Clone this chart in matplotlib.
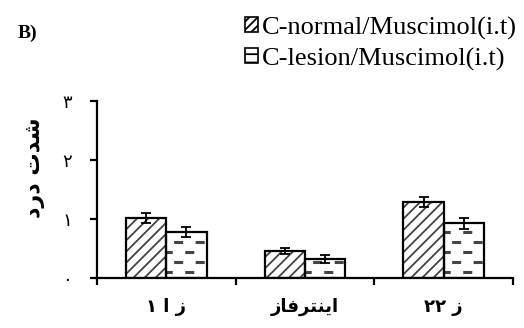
import numpy as np
import matplotlib
matplotlib.use("Agg")
import matplotlib.pyplot as plt
from matplotlib.patches import Patch

# ================================
# DATA
# ================================
# Persian labels are written in visual (left-to-right) order with
# presentation forms, since matplotlib does no Arabic shaping.
categories = ["۱ ﺍ ﺯ", "ﺯﺎﻓﺮﺘﻨﻳﺍ", "۲۲ ﺯ"]
series_names = ["C-normal/Muscimol(i.t)", "C-lesion/Muscimol(i.t)"]
normal_vals = [1.02, 0.46, 1.29]
normal_err = [0.08, 0.05, 0.08]
lesion_vals = [0.78, 0.32, 0.93]
lesion_err = [0.09, 0.07, 0.09]
y_ticks = [0, 1, 2, 3]
y_tick_labels = ["۰", "۱", "۲", "۳"]
y_label = "ﺩﺭﺩ ﺕﺪﺷ"
panel = "B)"

# ================================
# FIGURE
# ================================
plt.rcParams["hatch.linewidth"] = 1.3
plt.rcParams["lines.scale_dashes"] = False
fig = plt.figure(figsize=(5.24, 3.28), dpi=100)
ax = fig.add_axes([0.185, 0.152, 0.794, 0.54])

centers = np.arange(len(categories)) + 0.5
w = 0.29
x1 = centers - w / 2
x2 = centers + w / 2

# hatched fills
ax.bar(x1, normal_vals, w, color="white", edgecolor="#444444", hatch="///", linewidth=0, zorder=1)
ax.bar(x2, lesion_vals, w, color="white", linewidth=0, zorder=1)

# dashed pattern for lesion bars, clipped to each bar
b2 = ax.bar(x2, lesion_vals, w, fill=False, edgecolor="black", linewidth=1.6, zorder=3)
for rect in b2.patches:
    x0 = rect.get_x()
    levels = np.arange(0.10, rect.get_height(), 0.17)
    for i, lv in enumerate(levels):
        off = 2 if i % 2 == 0 else 10
        ln, = ax.plot([x0, x0 + w], [lv, lv], color="#444444", lw=2.2,
                      linestyle=(off, (6.5, 9)), solid_capstyle="butt",
                      dash_capstyle="butt", zorder=2)
        ln.set_clip_path(rect)

ax.bar(x1, normal_vals, w, fill=False, edgecolor="black", linewidth=1.6, zorder=3)

ax.errorbar(x1, normal_vals, yerr=normal_err, fmt="none", ecolor="black",
            elinewidth=1.3, capsize=3.6, capthick=1.3, zorder=4)
ax.errorbar(x2, lesion_vals, yerr=lesion_err, fmt="none", ecolor="black",
            elinewidth=1.3, capsize=3.6, capthick=1.3, zorder=4)

ax.set_xlim(0, 3)
ax.set_ylim(0, 3)
for s in ["top", "right"]:
    ax.spines[s].set_visible(False)
for s in ["left", "bottom"]:
    ax.spines[s].set_linewidth(1.6)

ax.set_yticks(y_ticks)
ax.set_yticklabels(y_tick_labels, family="DejaVu Sans", fontsize=13)
ax.tick_params(axis="y", direction="out", length=5, width=1.6, pad=13)

ax.set_xticks([0, 1, 2, 3])
ax.set_xticklabels([])
ax.tick_params(axis="x", which="major", direction="out", length=5, width=1.6)
ax.set_xticks(centers, minor=True)
ax.set_xticklabels(categories, minor=True, family="DejaVu Sans",
                   fontweight="bold", fontsize=13)
ax.tick_params(axis="x", which="minor", length=0, pad=14)

fig.text(0.067, 0.488, y_label, rotation=90, ha="center", va="center",
         family="DejaVu Sans", fontweight="bold", fontsize=16)
fig.text(0.033, 0.897, panel, ha="left", va="center",
         family="Liberation Serif", fontweight="bold", fontsize=14)

handles = [
    Patch(facecolor="white", edgecolor="black", hatch="////", linewidth=1.2),
    Patch(facecolor="white", edgecolor="black", hatch="--", linewidth=1.2),
]
fig.legend(handles, series_names, loc="upper right", bbox_to_anchor=(1.012, 0.99),
           frameon=False, prop={"family": "Liberation Serif", "size": 19},
           handlelength=0.5, handleheight=0.5, handletextpad=0.15,
           labelspacing=0.3, borderaxespad=0.1)

fig.savefig("out.png", dpi=100)
